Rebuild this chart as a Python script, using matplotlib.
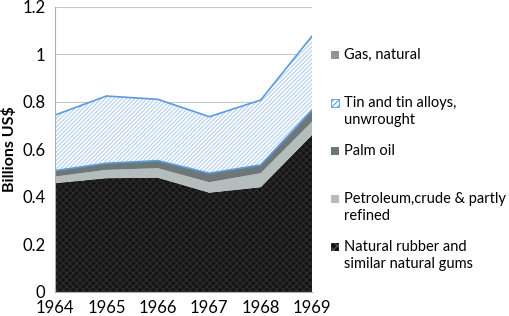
import numpy as np
import matplotlib.pyplot as plt
from matplotlib.patches import Rectangle

plt.rcParams['font.family'] = ['Lato', 'DejaVu Sans']
plt.rcParams['hatch.linewidth'] = 0.8

years = [1964, 1965, 1966, 1967, 1968, 1969]
rubber = [0.458, 0.479, 0.481, 0.418, 0.441, 0.661]
petroleum = [0.028, 0.035, 0.040, 0.044, 0.059, 0.056]
palm_oil = [0.025, 0.028, 0.032, 0.038, 0.035, 0.049]
tin = [0.234, 0.283, 0.258, 0.238, 0.273, 0.312]
gas = [0.0, 0.0, 0.0, 0.0, 0.0, 0.0]

x = np.array(years)
b0 = np.zeros(len(x))
b1 = b0 + rubber
b2 = b1 + petroleum
b3 = b2 + palm_oil
b4 = b3 + tin
b5 = b4 + gas

W, H = 510, 316
fig = plt.figure(figsize=(W / 100, H / 100), dpi=100)
ax = fig.add_axes([0.108, 0.076, 0.504, 0.902])

ax.fill_between(x, b0, b1, facecolor='#141414', edgecolor='#2c2c2c',
                hatch='xxxxx', linewidth=0)
ax.fill_between(x, b1, b2, facecolor='#b5bdbc', linewidth=0)
ax.fill_between(x, b2, b3, facecolor='#6e7777', linewidth=0)
ax.fill_between(x, b3, b4, facecolor='white', edgecolor='#b3cff0',
                hatch='////////', linewidth=0)
ax.plot(x, b3, color='#5b9be0', lw=1.2)
ax.plot(x, b4, color='#5b9be0', lw=1.2)
ax.fill_between(x, b4, b5, facecolor='#8d9494', linewidth=0)

ax.set_xlim(1964, 1969)
ax.set_ylim(0, 1.2)
ax.set_yticks([0, 0.2, 0.4, 0.6, 0.8, 1.0, 1.2])
ax.set_yticklabels(['0', '0.2', '0.4', '0.6', '0.8', '1', '1.2'])
ax.set_xticks(years)
ax.tick_params(length=0, labelsize=12)
ax.tick_params(axis='x', pad=6)
ax.tick_params(axis='y', pad=7)
ax.grid(axis='y', color='#c8c8c8', lw=0.8)
ax.set_axisbelow(True)
for s in ['top', 'right']:
    ax.spines[s].set_visible(False)
ax.spines['left'].set_color('#b0b0b0')
ax.spines['bottom'].set_color('#b0b0b0')
ax.set_ylabel('Billions US$', fontsize=11.5, fontweight='bold', labelpad=4)

# legend, drawn by hand so each key sits on the first line of its label
legend_labels = [
    'Gas, natural',
    'Tin and tin alloys,\nunwrought',
    'Palm oil',
    'Petroleum,crude & partly\nrefined',
    'Natural rubber and\nsimilar natural gums',
]
legend_styles = [
    dict(facecolor='#8d9494', edgecolor='none'),
    dict(facecolor='white', edgecolor='#5b9be0', hatch='//////', lw=0.6),
    dict(facecolor='#6e7777', edgecolor='none'),
    dict(facecolor='#b5bdbc', edgecolor='none'),
    dict(facecolor='#141414', edgecolor='#555555', hatch='xxxx', lw=0),
]
sq = 8
for i, (lab, st) in enumerate(zip(legend_labels, legend_styles)):
    yc = 55 + 48 * i
    fig.add_artist(Rectangle((331 / W, 1 - (yc + sq / 2) / H), sq / W, sq / H,
                             transform=fig.transFigure, **st))
    fig.text(344 / W, 1 - (yc - 7) / H, lab, va='top', ha='left',
             fontsize=10.5, linespacing=1.28)

fig.savefig('out.png', dpi=100)
